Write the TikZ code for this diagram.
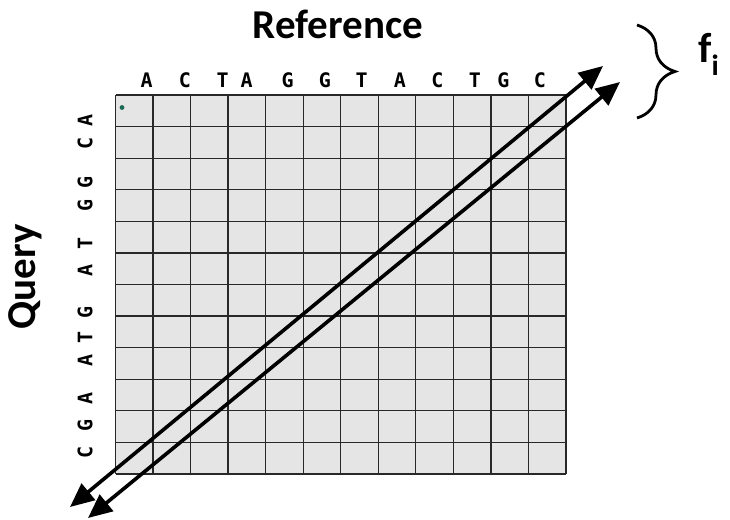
\documentclass[tikz,border=0pt]{standalone}
\usepackage{fontspec}
\setmainfont{Carlito}
\newfontfamily\seqfont{DejaVu Sans Mono}
\usetikzlibrary{arrows.meta,positioning,calc,decorations.pathreplacing}
\definecolor{cellgray}{RGB}{229,229,229}
\definecolor{gridgray}{RGB}{40,40,40}
\definecolor{dotgreen}{RGB}{25,105,85}
\tikzset{
  titletext/.style={font=\fontsize{41}{44}\selectfont\bfseries,inner sep=0pt},
  seqletter/.style={font=\seqfont\fontsize{20}{20}\selectfont\bfseries,inner sep=0pt},
  diag/.style={line width=3.6pt,{Triangle[length=24pt,width=21pt]}-{Triangle[length=24pt,width=21pt]}}
}

\begin{document}
\begin{tikzpicture}[x=1pt,y=-1pt]
  \useasboundingbox (0,0) rectangle (730,519);
  % dot plot grid
  \fill[cellgray] (115.5,95) rectangle (566,474);
  \foreach \i in {0,...,12} {
    \draw[gridgray,line width=1.3pt] ({115.5+\i*37.54},95) -- ({115.5+\i*37.54},474);
    \draw[gridgray,line width=1.3pt] (115.5,{95+\i*31.58}) -- (566,{95+\i*31.58});
  }
  \fill[dotgreen] (122,107.5) circle (2.4);
  % sequences
  \node[titletext,anchor=base] (ref) at (338,39) {Reference};
  \node[titletext,rotate=90] (qry) at (25,277) {Query};
  \foreach \x/\b [count=\n] in {146.7/A,185/C,222.7/T,246.7/A,287.7/G,325/G,
      361.7/T,400/A,437.3/C,475/T,503.3/G,540/C}
    \node[seqletter] (r\n) at (\x,80) {\b};
  \foreach \y/\b [count=\n] in {120/A,143/C,182/G,205/G,243/T,270/A,
      312/G,337/T,360/A,398/A,425/G,452/C}
    \node[seqletter,rotate=90] (q\n) at (85,\y) {\b};
  % diagonals
  \coordinate (a1s) at (70,507);
  \coordinate (a1e) at (603,66);
  \coordinate (a2s) at (88,518);
  \coordinate (a2e) at (620,82);
  \draw[diag] (a1s) -- (a1e);
  \draw[diag] (a2s) -- (a2e);
  \coordinate (brtop) at (637,25);
  \coordinate (brbot) at (637,118);
  \draw[line width=2.8pt,decorate,decoration={brace,amplitude=38pt}] (brtop) -- (brbot);
  \node[font=\fontsize{42}{44}\selectfont\bfseries,anchor=base west,inner sep=0pt] (fi) at (698,63) {f\textsubscript{i}};
\end{tikzpicture}
\end{document}
